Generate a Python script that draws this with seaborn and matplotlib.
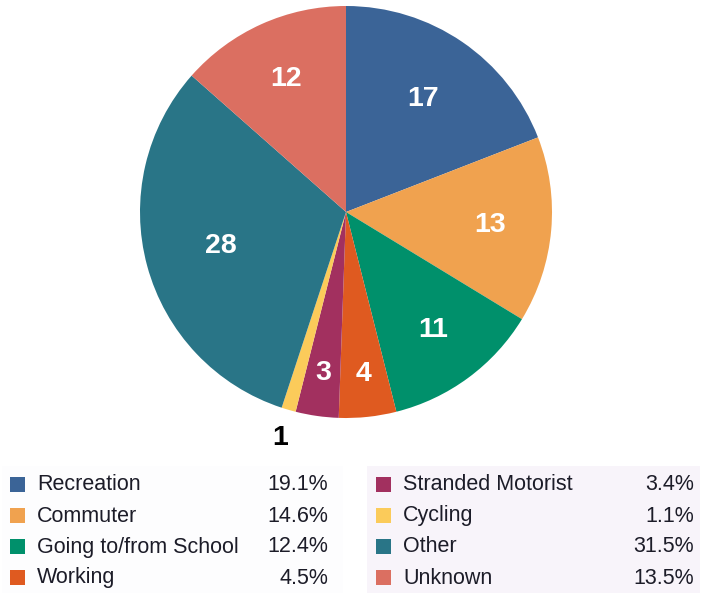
import numpy as np
import matplotlib
matplotlib.use("Agg")
import matplotlib.pyplot as plt
from matplotlib.patches import Rectangle
import seaborn as sns

categories = ["Recreation", "Commuter", "Going to/from School", "Working",
              "Stranded Motorist", "Cycling", "Other", "Unknown"]
counts = [17, 13, 11, 4, 3, 1, 28, 12]
percent_labels = ["19.1%", "14.6%", "12.4%", "4.5%", "3.4%", "1.1%", "31.5%", "13.5%"]
colors = ["#3b6497", "#f0a24f", "#00906b", "#df5a20",
          "#a2305f", "#fbcb5a", "#297587", "#db6f61"]

# label placement (fraction of radius) per slice - layout only
label_r = [0.665, 0.70, 0.71, 0.79, 0.79, 1.14, 0.63, 0.71]

sns.set_theme(style="white")
plt.rcParams['font.family'] = ['Liberation Sans', 'DejaVu Sans']

W, H = 701, 593
fig = plt.figure(figsize=(W / 100, H / 100), dpi=100)
fig.patch.set_facecolor("white")

cx, cy, R = 346, 212, 206
ax = fig.add_axes([(cx - R) / W, (H - (cy + R)) / H, 2 * R / W, 2 * R / H])
wedges, _ = ax.pie(counts, colors=colors, startangle=90, counterclock=False,
                   radius=1, wedgeprops=dict(linewidth=0))
ax.set_xlim(-1, 1)
ax.set_ylim(-1, 1)
ax.set_aspect("equal")
ax.axis("off")

for w, c, r in zip(wedges, counts, label_r):
    ang = np.deg2rad((w.theta1 + w.theta2) / 2)
    x, y = r * np.cos(ang), r * np.sin(ang)
    col = "white" if r < 1 else "black"
    ax.text(x, y, str(c), ha="center", va="center", fontsize=20.5,
            fontweight="bold", color=col, clip_on=False)

# legend boxes
def fx(px):
    return px / W

def fy(py):
    return 1 - py / H

fig.patches.append(Rectangle((fx(2), fy(593)), fx(343) - fx(2), fy(466) - fy(593),
                             transform=fig.transFigure, facecolor="#fdfdfe",
                             edgecolor="none", zorder=0))
fig.patches.append(Rectangle((fx(367), fy(593)), fx(700) - fx(367), fy(466) - fy(593),
                             transform=fig.transFigure, facecolor="#f8f4fa",
                             edgecolor="none", zorder=0))

rows_y = [484, 515, 546, 577]
cols = [(10, 37, 328), (376, 403, 694)]
sq = 15
for i, (cat, pct, col) in enumerate(zip(categories, percent_labels, colors)):
    cidx, ridx = divmod(i, 4)
    sx, tx, px = cols[cidx]
    y = rows_y[ridx]
    fig.patches.append(Rectangle((fx(sx), fy(y + sq / 2)), sq / W, sq / H,
                                 transform=fig.transFigure, facecolor=col,
                                 edgecolor="none", zorder=1))
    fig.text(fx(tx), fy(y + 1), cat, ha="left", va="center", fontsize=15.5,
             color="#1c1c28")
    fig.text(fx(px), fy(y + 1), pct, ha="right", va="center", fontsize=15.5,
             color="#1c1c28")

fig.savefig("out.png", dpi=100, facecolor="white")
